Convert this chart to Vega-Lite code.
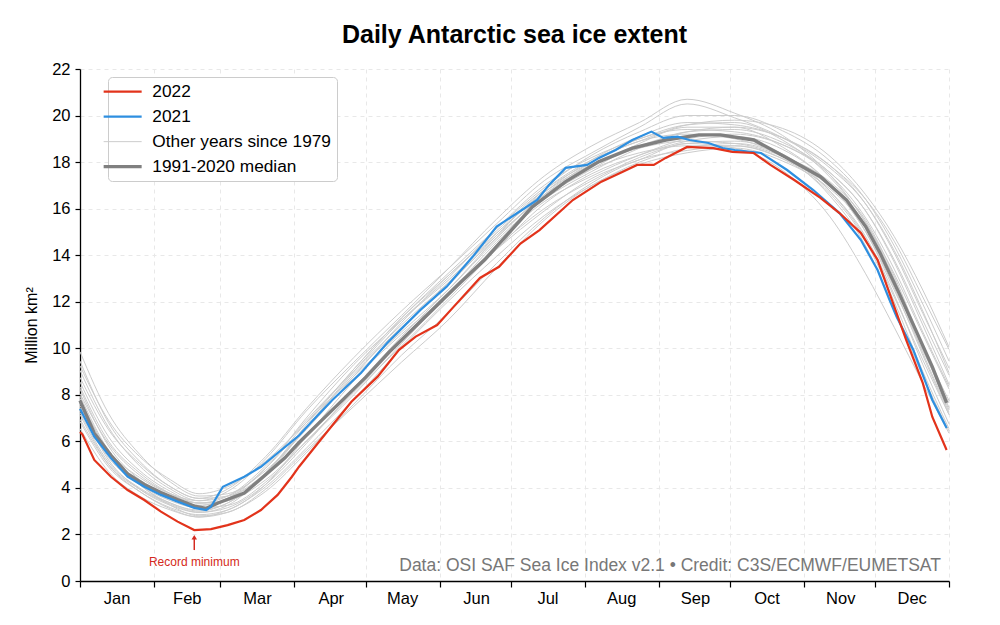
{
 "$schema": "https://vega.github.io/schema/vega-lite/v6.json",
 "width": 869, "height": 512,
 "autosize": {"type": "none"},
 "padding": {"left": 80, "top": 69, "right": 51, "bottom": 44},
 "background": "white",
 "title": {"text": "Daily Antarctic sea ice extent", "fontSize": 25, "fontWeight": "bold", "font": "Liberation Sans", "color": "#000000", "anchor": "middle", "offset": 13},
 "config": {"font": "Liberation Sans", "view": {"stroke": null}},
 "encoding": {
  "x": {"field": "d", "type": "quantitative", "scale": {"domain": [0, 365], "nice": false, "zero": false},
   "axis": {"title": null, "values": [0,31,59,90,120,151,181,212,243,273,304,334,365],
    "labelExpr": "['Jan','Feb','Mar','Apr','May','Jun','Jul','Aug','Sep','Oct','Nov','Dec',''][indexof([0,31,59,90,120,151,181,212,243,273,304,334,365], datum.value)]",
    "labelOffset": {"condition": {"test": "datum.value == 31", "value": 33}, "value": 36.5},
    "labelFlush": false, "labelOverlap": false, "labelFontSize": 16.5, "labelColor": "#000000", "labelPadding": 3,
    "tickSize": 6, "tickColor": "#000000", "tickWidth": 1.2, "domainColor": "#000000", "domainWidth": 1.3,
    "grid": true, "gridDash": [4, 4], "gridColor": "#e8e8e8", "gridWidth": 1}},
  "y": {"field": "v", "type": "quantitative", "scale": {"domain": [0, 22], "nice": false},
   "axis": {"title": "Million km²", "values": [0,2,4,6,8,10,12,14,16,18,20,22],
    "titleFontSize": 16, "titleFontWeight": "normal", "titleColor": "#000000", "titlePadding": 12,
    "labelFontSize": 16.5, "labelColor": "#000000", "labelPadding": 5,
    "tickSize": 5, "tickColor": "#000000", "tickWidth": 1.2, "domainColor": "#000000", "domainWidth": 1.3,
    "grid": true, "gridDash": [4, 4], "gridColor": "#e8e8e8", "gridWidth": 1}}
 },
 "layer": [
  {
   "data": {"values": [
    {"yr": "g1", "d": [0,12,25,38,50,62,78,95,115,135,155,175,195,215,235,255,275,295,315,330,342,354,365], "v": [8.75,6.5,5.05,4.05,3.55,3.95,5.35,7.4,9.6,11.6,13.45,15.35,17.2,18.4,19.5,20.5,19.9,19.05,17.75,16.2,14.2,11.6,8.95]},
    {"yr": "g2", "d": [0,12,25,38,50,62,78,95,115,135,155,175,195,215,235,255,275,295,315,330,342,354,365], "v": [9.85,7.2,5.45,4.25,3.65,3.75,4.75,6.5,8.8,11.1,13.15,14.95,16.7,18.1,19.1,19.7,19.6,19.05,17.85,16.4,14.6,12.2,9.95]},
    {"yr": "g3", "d": [0,12,25,38,50,62,78,95,115,135,155,175,195,215,235,255,275,295,315,330,342,354,365], "v": [6.55,4.7,3.65,3.05,2.75,2.95,3.85,5.5,7.6,9.7,11.55,13.65,15.6,17.1,18.1,18.5,18.7,18.15,16.65,14.6,12.0,9.0,6.55]},
    {"yr": "g4", "d": [0,12,25,38,50,62,78,95,115,135,155,175,195,215,235,255,275,295,315,330,342,354,365], "v": [8.35,6.0,4.65,3.75,3.25,3.55,4.55,6.3,8.3,10.3,12.35,14.25,15.9,17.3,18.1,18.8,18.6,17.65,15.65,13.2,10.9,8.5,6.35]},
    {"yr": "g5", "d": [0,12,25,38,50,62,78,95,115,135,155,175,195,215,235,255,275,295,315,330,342,354,365], "v": [8.05,5.9,4.55,3.75,3.35,3.65,4.95,6.9,9.0,11.0,12.85,14.75,16.6,18.0,19.0,19.4,19.3,18.75,17.45,15.6,13.4,10.7,8.35]},
    {"yr": "g6", "d": [0,12,25,38,50,62,78,95,115,135,155,175,195,215,235,255,275,295,315,330,342,354,365], "v": [7.35,5.3,4.15,3.45,3.15,3.25,4.25,6.0,8.1,10.1,12.15,14.25,16.2,17.5,18.3,18.9,19.1,18.55,17.05,15.0,12.6,9.7,7.15]},
    {"yr": "g7", "d": [0,12,25,38,50,62,78,95,115,135,155,175,195,215,235,255,275,295,315,330,342,354,365], "v": [7.75,5.6,4.45,3.75,3.45,3.85,5.25,7.3,9.4,11.4,13.45,15.55,17.4,18.7,19.7,20.7,20.1,19.15,17.45,15.4,13.2,10.6,8.25]},
    {"yr": "g8", "d": [0,12,25,38,50,62,78,95,115,135,155,175,195,215,235,255,275,295,315,330,342,354,365], "v": [6.85,4.9,3.85,3.15,2.85,3.05,4.15,6.2,8.6,10.8,12.85,14.95,16.7,17.9,18.7,19.3,19.5,19.05,17.85,16.2,14.1,11.5,9.15]},
    {"yr": "g9", "d": [0,12,25,38,50,62,78,95,115,135,155,175,195,215,235,255,275,295,315,330,342,354,365], "v": [7.95,5.6,4.15,3.35,3.05,3.35,4.65,6.6,8.7,10.6,12.35,14.45,16.5,17.9,18.6,18.9,18.8,18.25,17.15,15.5,13.1,10.1,7.45]},
    {"yr": "g10", "d": [0,12,25,38,50,62,78,95,115,135,155,175,195,215,235,255,275,295,315,330,342,354,365], "v": [7.15,5.0,3.85,3.1,2.75,3.05,4.05,5.7,7.8,10.0,12.05,13.95,15.7,17.0,18.0,18.6,18.8,18.25,16.55,14.4,11.7,8.8,6.45]},
    {"yr": "g11", "d": [0,12,25,38,50,62,78,95,115,135,155,175,195,215,235,255,275,295,315,330,342,354,365], "v": [9.25,6.9,5.35,4.35,3.75,4.05,5.15,6.8,8.8,10.7,12.55,14.65,16.4,17.6,18.6,19.3,19.4,18.85,17.55,15.9,13.8,11.2,8.85]},
    {"yr": "g12", "d": [0,12,25,38,50,62,78,95,115,135,155,175,195,215,235,255,275,295,315,330,342,354,365], "v": [7.85,5.5,4.15,3.25,2.8,2.95,3.95,5.6,7.5,9.4,11.25,13.45,15.5,17.0,17.9,18.4,18.6,18.05,16.85,15.2,12.8,9.8,7.25]},
    {"yr": "g13", "d": [0,12,25,38,50,62,78,95,115,135,155,175,195,215,235,255,275,295,315,330,342,354,365], "v": [8.55,6.2,4.75,3.85,3.35,3.45,4.55,6.6,9.0,11.2,13.05,15.15,17.0,18.2,19.0,19.6,19.7,18.95,17.35,15.4,13.0,10.1,7.75]},
    {"yr": "g14", "d": [0,12,25,38,50,62,78,95,115,135,155,175,195,215,235,255,275,295,315,330,342,354,365], "v": [7.55,5.2,3.95,3.25,2.95,3.25,4.65,6.7,9.1,11.3,13.15,15.05,16.8,18.0,18.9,19.2,19.0,18.25,16.75,14.8,12.3,9.3,6.75]},
    {"yr": "g15", "d": [0,12,25,38,50,62,78,95,115,135,155,175,195,215,235,255,275,295,315,330,342,354,365], "v": [9.05,6.6,4.95,3.95,3.45,3.65,4.85,6.8,9.1,11.3,13.25,15.15,16.9,18.3,19.3,20.0,20.0,19.35,18.05,16.4,14.4,11.9,9.45]},
    {"yr": "g16", "d": [0,12,25,38,50,62,78,95,115,135,155,175,195,215,235,255,275,295,315,330,342,354,365], "v": [6.95,5.0,3.95,3.3,2.95,3.15,4.15,5.9,8.2,10.4,12.45,14.35,16.0,17.2,18.2,18.8,18.9,18.35,16.75,14.7,12.2,9.5,7.15]},
    {"yr": "g17", "d": [0,12,25,38,50,62,78,95,115,135,155,175,195,215,235,255,275,295,315,330,342,354,365], "v": [8.25,5.8,4.35,3.55,3.25,3.55,4.85,7.0,9.3,11.2,12.95,14.85,16.5,17.7,18.8,19.5,19.5,18.65,17.05,15.0,12.5,9.9,7.65]},
    {"yr": "g18", "d": [0,12,25,38,50,62,78,95,115,135,155,175,195,215,235,255,275,295,315,330,342,354,365], "v": [7.45,5.4,4.35,3.65,3.35,3.45,4.35,6.0,8.0,10.2,12.35,14.55,16.3,17.4,18.3,19.0,19.2,18.75,17.55,15.9,13.7,11.0,8.45]},
    {"yr": "g19", "d": [0,12,25,38,50,62,78,95,115,135,155,175,195,215,235,255,275,295,315,330,342,354,365], "v": [9.45,6.8,5.15,4.05,3.55,3.65,4.65,6.6,8.9,10.9,12.75,14.85,16.8,18.1,18.9,19.6,19.8,19.45,18.25,16.6,14.8,12.5,10.05]},
    {"yr": "g20", "d": [0,12,25,38,50,62,78,95,115,135,155,175,195,215,235,255,275,295,315,330,342,354,365], "v": [7.25,5.1,4.0,3.35,3.0,3.35,4.55,6.3,8.3,10.5,12.55,14.75,16.6,17.7,18.4,18.7,18.7,18.15,16.95,15.3,12.9,10.0,7.35]}
   ]},
   "transform": [{"flatten": ["d", "v"]}],
   "mark": {"type": "line", "strokeWidth": 1, "interpolate": "monotone"},
   "encoding": {
    "detail": {"field": "yr", "type": "nominal"},
    "color": {"datum": "Other years since 1979", "type": "nominal",
     "scale": {"domain": ["2022", "2021", "Other years since 1979", "1991-2020 median"], "range": ["#e2331b", "#2e8fe0", "#cccccc", "#808080"]},
     "legend": {"title": null, "orient": "none", "legendX": 28, "legendY": 8, "symbolType": "stroke", "symbolSize": 1444, "symbolStrokeWidth": 2.2,
      "labelFontSize": 17.3, "labelLimit": 400, "labelColor": "#000000", "labelOffset": 21, "rowPadding": 7, "padding": 6,
      "fillColor": "white", "strokeColor": "#cccccc", "cornerRadius": 4,
      "encode": {"symbols": {"update": {"strokeWidth": {"signal": "datum.value === '1991-2020 median' ? 3.4 : datum.value === 'Other years since 1979' ? 1 : 2.2"}}}}}}
   }
  },
  {
   "data": {"values": [{"d": [0,6,13,20,27,34,41,48,53,58,69,77,86,92,100,110,120,130,140,150,160,170,177,190,204,218,232,246,260,269,283,297,311,322,330,336,344,351,358,364], "v": [7.75,6.35,5.4,4.6,4.15,3.8,3.5,3.22,3.12,3.35,3.78,4.48,5.28,5.95,6.75,7.75,8.75,9.85,10.85,11.85,12.85,13.8,14.6,16.08,17.16,18.02,18.6,18.95,19.17,19.17,18.95,18.18,17.37,16.37,15.23,14.1,12.37,10.79,9.2,7.65]}]},
   "transform": [{"flatten": ["d", "v"]}],
   "mark": {"type": "line", "strokeWidth": 3.4},
   "encoding": {"color": {"datum": "1991-2020 median", "type": "nominal"}}
  },
  {
   "data": {"values": [{"d": [0,6,13,20,27,34,41,48,53,55,60,69,76,83,89,92,98,106,118,129,143,154,165,175,185,192,197,204,213,218,225,232,240,245,251,256,264,270,275,286,297,308,319,328,335,340,343,350,358,364], "v": [7.4,6.2,5.28,4.48,4.05,3.7,3.41,3.14,3.05,3.19,4.05,4.48,4.91,5.5,6.0,6.25,6.92,7.78,8.94,10.23,11.65,12.65,13.94,15.23,15.9,16.37,17.02,17.75,17.88,18.18,18.52,18.95,19.31,19.04,19.09,18.95,18.82,18.6,18.52,18.39,17.66,16.8,15.81,14.65,13.36,12.08,11.35,9.93,7.78,6.57]}]},
   "transform": [{"flatten": ["d", "v"]}],
   "mark": {"type": "line", "strokeWidth": 2.2},
   "encoding": {"color": {"datum": "2021", "type": "nominal"}}
  },
  {
   "data": {"values": [{"d": [0,1,6,13,20,27,34,41,48,55,62,69,76,83,89,92,101,114,125,134,141,150,157,168,176,185,193,207,219,228,234,241,246,255,266,274,283,290,300,311,319,328,335,341,347,354,358,364], "v": [6.4,6.3,5.2,4.48,3.91,3.48,2.98,2.55,2.19,2.23,2.4,2.62,3.05,3.7,4.48,4.91,6.06,7.7,8.78,9.93,10.5,11.0,11.79,13.02,13.5,14.5,15.08,16.37,17.16,17.59,17.88,17.88,18.18,18.65,18.6,18.44,18.39,17.88,17.23,16.46,15.81,14.95,13.8,12.08,10.36,8.5,7.05,5.63]}]},
   "transform": [{"flatten": ["d", "v"]}],
   "mark": {"type": "line", "strokeWidth": 2.2},
   "encoding": {"color": {"datum": "2022", "type": "nominal"}}
  },
  {
   "data": {"values": [{"d": 48, "v": 1.33, "v2": 1.9}]},
   "mark": {"type": "rule", "color": "#d42a20", "strokeWidth": 1.5},
   "encoding": {"y2": {"field": "v2"}}
  },
  {
   "data": {"values": [{"d": 48, "v": 1.88}]},
   "mark": {"type": "point", "shape": "triangle-up", "filled": true, "size": 30, "color": "#d42a20", "opacity": 1}
  },
  {
   "data": {"values": [{"d": 48, "v": 0.82, "t": "Record minimum"}]},
   "mark": {"type": "text", "fontSize": 12, "color": "#d42a20", "align": "center", "baseline": "middle"},
   "encoding": {"text": {"field": "t"}}
  },
  {
   "data": {"values": [{"d": 361.6, "v": 0.43, "t": "Data: OSI SAF Sea Ice Index v2.1 • Credit: C3S/ECMWF/EUMETSAT"}]},
   "mark": {"type": "text", "fontSize": 17.5, "color": "#777777", "align": "right", "baseline": "alphabetic"},
   "encoding": {"text": {"field": "t"}}
  }
 ]
}
